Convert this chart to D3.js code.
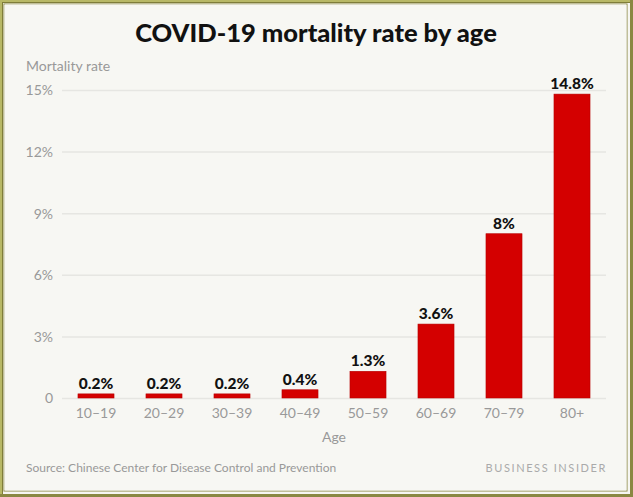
<!DOCTYPE html>
<html><head><meta charset="utf-8">
<script src="https://cdn.jsdelivr.net/npm/d3@7/dist/d3.min.js"></script>
<style>body{margin:0;background:#f6f6f2}svg{display:block}</style>
</head><body>
<svg id="c" width="633" height="497"></svg>
<script>
const categories = ["10\u201319","20\u201329","30\u201339","40\u201349","50\u201359","60\u201369","70\u201379","80+"];
const values = [0.2,0.2,0.2,0.4,1.3,3.6,8,14.8];
const valueLabels = ["0.2%","0.2%","0.2%","0.4%","1.3%","3.6%","8%","14.8%"];
const yTicks = [0,3,6,9,12,15];
const yTickLabels = ["0","3%","6%","9%","12%","15%"];

const svg = d3.select("#c");
const W = 633, H = 497;
// frame
svg.append("rect").attr("width",W).attr("height",H).attr("fill","#b8b866");
svg.append("rect").attr("x",2).attr("y",2).attr("width",W-4).attr("height",H-4).attr("fill","#7f7d3a");
svg.append("rect").attr("x",3).attr("y",3).attr("width",W-6).attr("height",H-6).attr("fill","#f6f6f2");
svg.append("rect").attr("x",4).attr("y",4).attr("width",W-10).attr("height",H-10).attr("fill","none").attr("stroke","#8a8842").attr("stroke-width",1);
svg.append("rect").attr("x",W-3).attr("y",0).attr("width",3).attr("height",H).attr("fill","#8a8842");
svg.append("rect").attr("x",0).attr("y",H-3).attr("width",W).attr("height",3).attr("fill","#8a8842");
svg.append("rect").attr("x",4.5).attr("y",4.5).attr("width",W-11).attr("height",H-11).attr("fill","#f7f7f3");

const x = d3.scaleBand().domain(categories).range([62,606]).paddingInner(0.47).paddingOuter(0.235);
const y = d3.scaleLinear().domain([0,15]).range([398,90]);

const font = "Lato, 'Open Sans', sans-serif";

svg.append("text").attr("x",316).attr("y",42).attr("text-anchor","middle")
  .attr("font-family",font).attr("font-weight",900).attr("font-size",25.5).attr("fill","#111")
  .text("COVID-19 mortality rate by age");

svg.append("text").attr("x",26).attr("y",71).attr("font-family",font).attr("font-size",14).attr("fill","#999")
  .text("Mortality rate");

// grid
const yAxis = d3.axisLeft(y).tickValues(yTicks).tickSize(-(606-62)).tickFormat((d,i)=>yTickLabels[i]).tickPadding(9);
const gy = svg.append("g").attr("transform","translate(62,0)").call(yAxis);
gy.select(".domain").remove();
gy.selectAll(".tick line").attr("stroke","#e6e6e2").attr("stroke-width",1.5);
gy.selectAll(".tick text").attr("font-family",font).attr("font-size",14).attr("fill","#999").attr("dy","0.35em");

svg.append("g").selectAll("rect").data(values).join("rect")
  .attr("x",(d,i)=>x(categories[i])).attr("width",x.bandwidth())
  .attr("y",d=>y(d)).attr("height",d=>y(0)-y(d))
  .attr("fill","#d40000").attr("stroke","#b80000").attr("stroke-width",0.6);

svg.append("g").selectAll("text").data(values).join("text")
  .attr("x",(d,i)=>x(categories[i])+x.bandwidth()/2).attr("y",d=>y(d)-5)
  .attr("text-anchor","middle").attr("font-family",font).attr("font-weight",900).attr("font-size",15.5).attr("fill","#111")
  .text((d,i)=>valueLabels[i]);

const xAxis = d3.axisBottom(x).tickSize(0).tickPadding(10);
const gx = svg.append("g").attr("transform","translate(0,398)").call(xAxis);
gx.select(".domain").remove();
gx.selectAll(".tick text").attr("font-family",font).attr("font-size",14).attr("fill","#999");

svg.append("text").attr("x",334).attr("y",442).attr("text-anchor","middle").attr("font-family",font).attr("font-size",14).attr("fill","#999").text("Age");

svg.append("text").attr("x",26).attr("y",472).attr("font-family",font).attr("font-size",12).attr("fill","#999")
  .text("Source: Chinese Center for Disease Control and Prevention");
svg.append("text").attr("x",607).attr("y",472).attr("text-anchor","end").attr("font-family",font).attr("font-size",11).attr("letter-spacing",1.6).attr("fill","#aaa")
  .text("BUSINESS INSIDER");
</script>
</body></html>
